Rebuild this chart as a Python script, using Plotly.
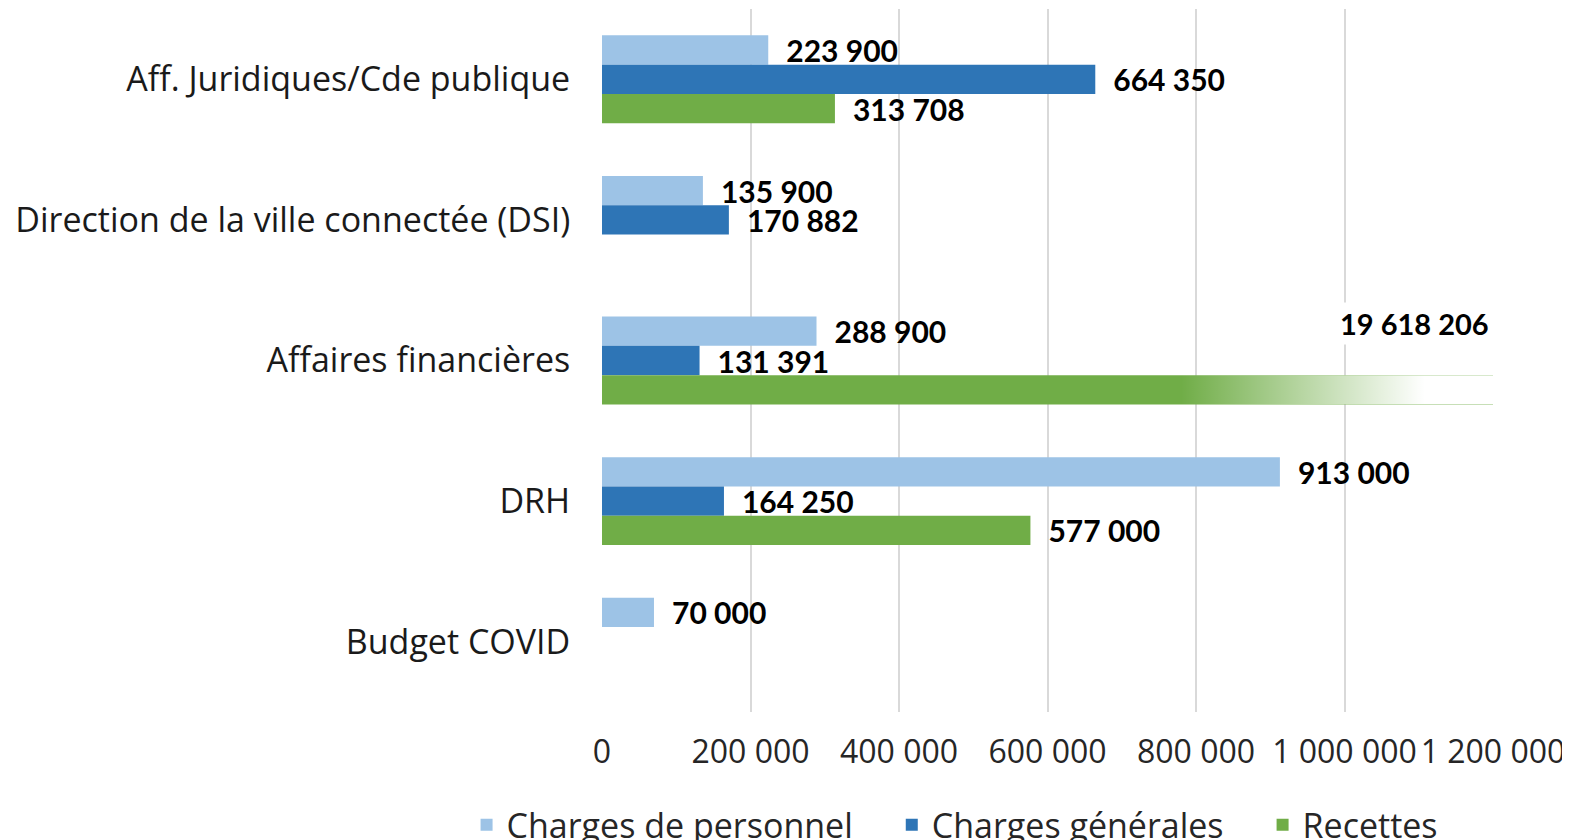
import base64
import plotly.graph_objects as go

categories = ["Aff. Juridiques/Cde publique", "Direction de la ville connectée (DSI)",
              "Affaires financières", "DRH", "Budget COVID"]
personnel = [223900, 135900, 288900, 913000, 70000]
generales = [664350, 170882, 131391, 164250, None]
recettes = [313708, None, 19618206, 577000, None]
tick_vals = [0, 200000, 400000, 600000, 800000, 1000000, 1200000]

x_max = 1200000
bargap = 0.375
text_font = "Open Sans"
label_font = "Lato"


def fmt(v):
    return f"{v:,}".replace(",", " ")


def labels(vals):
    # labels for bars cut by the axis are drawn separately
    return ["" if v is None or v > x_max else "\u2002" + fmt(v) for v in vals]


fig = go.Figure()
for name, vals, color in [("Charges de personnel", personnel, "#9DC3E6"),
                          ("Charges générales", generales, "#2E75B6"),
                          ("Recettes", recettes, "#70AD47")]:
    fig.add_trace(go.Bar(
        y=categories, x=vals, name=name + "\u2003", orientation="h",
        marker=dict(color=color, line=dict(width=0)),
        text=labels(vals), textposition="outside", constraintext="none",
        cliponaxis=False,
        textfont=dict(family=label_font, size=30, color="#000000", weight="bold"),
    ))

# white fade over the bar that runs past the axis
svg = ("<svg xmlns='http://www.w3.org/2000/svg' width='200' height='20' preserveAspectRatio='none'>"
       "<defs><linearGradient id='g' x1='0' x2='1' y1='0' y2='0'>"
       "<stop offset='0' stop-color='#ffffff' stop-opacity='0'/>"
       "<stop offset='0.78' stop-color='#ffffff' stop-opacity='1'/>"
       "<stop offset='1' stop-color='#ffffff' stop-opacity='1'/>"
       "</linearGradient></defs><rect width='200' height='20' fill='url(#g)'/></svg>")
src = "data:image/svg+xml;base64," + base64.b64encode(svg.encode()).decode()
w = 1 - bargap
for i, v in enumerate(recettes):
    if v is not None and v > x_max:
        fig.add_layout_image(
            source=src, xref="x", yref="y", x=780000, y=i + w / 6,
            sizex=x_max - 780000, sizey=w / 3, xanchor="left", yanchor="top",
            sizing="stretch", layer="above")
        fig.add_annotation(
            x=x_max, y=categories[i], xref="x", yref="y", text=fmt(v),
            showarrow=False, xanchor="right", yanchor="middle", yshift=37,
            bgcolor="#ffffff", borderpad=3,
            font=dict(family=label_font, size=29, color="#000000", weight="bold"))

fig.update_layout(
    width=1570, height=840,
    margin=dict(l=594, r=85, t=1, b=136, autoexpand=False),
    paper_bgcolor="#ffffff", plot_bgcolor="#ffffff",
    barmode="group", bargap=bargap, bargroupgap=0,
    separators=", ",
    font=dict(family=text_font, color="#262626"),
    legend=dict(orientation="h", x=-0.152, xanchor="left", y=-0.161, yanchor="middle",
                font=dict(size=34, color="#262626"), tracegroupgap=0),
    showlegend=True,
)
fig.update_xaxes(range=[0, x_max], tickvals=tick_vals, tickformat=",", showgrid=True,
                 gridcolor="#d9d9d9", gridwidth=1.5, zeroline=False,
                 ticks="outside", ticklen=12, tickcolor="rgba(0,0,0,0)",
                 tickfont=dict(size=32, color="#262626"))
fig.update_yaxes(autorange="reversed", showgrid=False, ticks="outside", ticklen=24,
                 tickcolor="rgba(0,0,0,0)", tickfont=dict(size=34, color="#1a1a1a"))

fig.write_html("out.html")
